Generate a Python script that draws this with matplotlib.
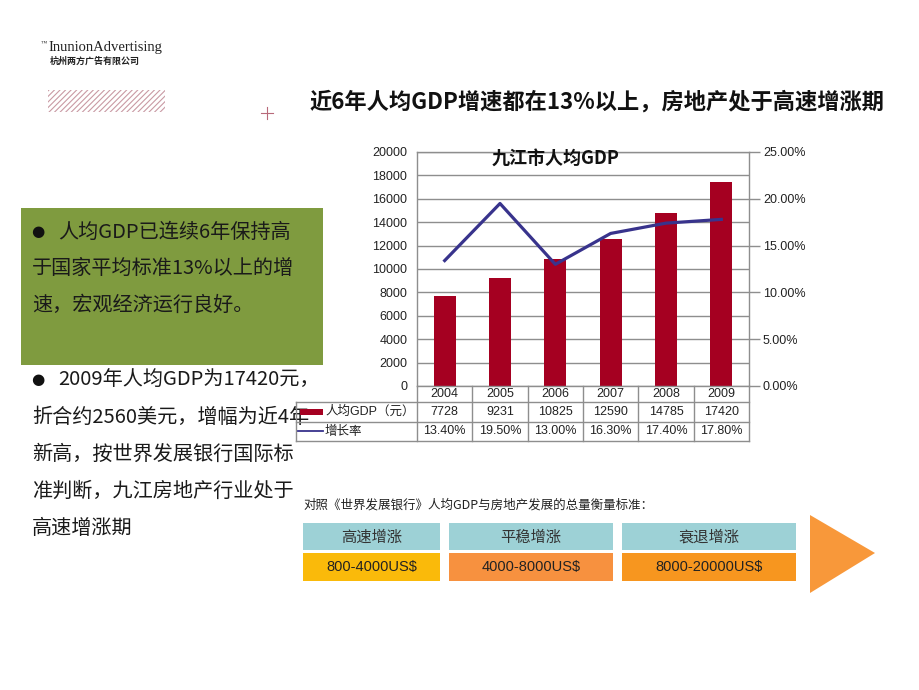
import matplotlib
matplotlib.use('Agg')
import matplotlib.pyplot as plt
from matplotlib.patches import Rectangle, Polygon
from matplotlib.ticker import FuncFormatter, MultipleLocator
from matplotlib.transforms import blended_transform_factory

plt.rcParams['font.family'] = ['Noto Sans CJK SC', 'DejaVu Sans']
plt.rcParams['hatch.linewidth'] = 0.8
ARIAL = ['Liberation Sans', 'Noto Sans CJK SC']

# data
years = ['2004', '2005', '2006', '2007', '2008', '2009']
gdp = [7728, 9231, 10825, 12590, 14785, 17420]
growth = [0.134, 0.195, 0.130, 0.163, 0.174, 0.178]
growth_labels = ['13.40%', '19.50%', '13.00%', '16.30%', '17.40%', '17.80%']
bar_name = '人均GDP（元）'
line_name = '增长率'

title = '近6年人均GDP增速都在13%以上，房地产处于高速增涨期'
chart_title = '九江市人均GDP'
para1 = ['人均GDP已连续6年保持高', '于国家平均标准13%以上的增', '速，宏观经济运行良好。']
para2 = ['2009年人均GDP为17420元，', '折合约2560美元，增幅为近4年', '新高，按世界发展银行国际标',
         '准判断，九江房地产行业处于', '高速增涨期']
std_caption = '对照《世界发展银行》人均GDP与房地产发展的总量衡量标准：'
std_names = ['高速增涨', '平稳增涨', '衰退增涨']
std_ranges = ['800-4000US$', '4000-8000US$', '8000-20000US$']

bar_color = '#A50021'
line_color = '#38338C'
grid_c = '#8E8E8E'

fig = plt.figure(figsize=(9.2, 6.9), dpi=100)

# full-page overlay in pixel coordinates for the slide decorations
bg = fig.add_axes([0, 0, 1, 1], zorder=0)
bg.set_xlim(0, 920)
bg.set_ylim(690, 0)
bg.axis('off')

bg.text(47, 43, '™', fontsize=4.5, family='Liberation Serif', va='center', ha='right', color='#222')
bg.text(48, 47.5, 'InunionAdvertising', fontsize=10.5, family='Liberation Serif',
        va='center', ha='left', color='#222')
bg.text(50, 61, '杭州两方广告有限公司', fontsize=6.5, fontweight='bold', va='center', ha='left', color='#222')
bg.add_patch(Rectangle((48, 90), 117, 22, facecolor='none', edgecolor='#C99AA4', hatch='//////', lw=0))
bg.plot([261, 273], [113, 113], color='#B86A7A', lw=0.8)
bg.plot([267, 267], [107, 119], color='#B86A7A', lw=0.8)

bg.text(310, 102, title, fontsize=16, fontweight='bold', va='center', ha='left', color='#111')

# green box with first paragraph
bg.add_patch(Rectangle((21, 208), 302, 157, facecolor='#7F9B3F', edgecolor='none'))
bg.text(31, 232, '●', fontsize=11, va='center', ha='left', color='#111', family='DejaVu Sans')
for i, s in enumerate(para1):
    bg.text(58 if i == 0 else 32, 232 + i * 36.5, s, fontsize=14.5, va='center', ha='left', color='#1a1a1a')

bg.text(31, 380, '●', fontsize=11, va='center', ha='left', color='#111', family='DejaVu Sans')
for i, s in enumerate(para2):
    bg.text(58 if i == 0 else 32, 380 + i * 37, s, fontsize=14.5, va='center', ha='left', color='#1a1a1a')

# standard boxes
bg.text(303, 505, std_caption, fontsize=9, va='center', ha='left', color='#222')
box_x = [(303, 440), (449, 613), (622, 796)]
range_colors = ['#FABA0A', '#F7913F', '#F7961F']
for (x0, x1), name, rng, rc in zip(box_x, std_names, std_ranges, range_colors):
    bg.add_patch(Rectangle((x0, 523), x1 - x0, 27, facecolor='#9DD1D6', edgecolor='none'))
    bg.add_patch(Rectangle((x0, 553), x1 - x0, 28, facecolor=rc, edgecolor='none'))
    bg.text((x0 + x1) / 2, 537, name, fontsize=11, va='center', ha='center', color='#333')
    bg.text((x0 + x1) / 2, 567, rng, fontsize=10.5, family=ARIAL, va='center', ha='center', color='#222')
bg.add_patch(Polygon([(810, 515), (810, 593), (875, 553)], closed=True, facecolor='#F8983A', edgecolor='none'))

# chart
ax = fig.add_axes([417 / 920, 1 - 386 / 690, 332 / 920, 234 / 690], zorder=1)
x = list(range(len(years)))
ax.bar(x, gdp, width=0.4, color=bar_color, zorder=2)
ax.set_xlim(-0.5, len(years) - 0.5)
ax.set_ylim(0, 20000)
ax.yaxis.set_major_locator(MultipleLocator(2000))
ax.set_xticks([])
ax.grid(axis='y', color=grid_c, lw=1, zorder=1)
ax.set_axisbelow(True)
ax.tick_params(axis='y', length=0, pad=7, labelsize=9, labelcolor='#222')
for lab in ax.get_yticklabels():
    lab.set_family(ARIAL)
for sp in ax.spines.values():
    sp.set_color(grid_c)
    sp.set_linewidth(1)

ax2 = ax.twinx()
ax2.plot(x, growth, color=line_color, lw=2.3, zorder=3)
ax2.set_ylim(0, 0.25)
ax2.yaxis.set_major_locator(MultipleLocator(0.05))
ax2.yaxis.set_major_formatter(FuncFormatter(lambda v, p: '%.2f%%' % (v * 100)))
ax2.tick_params(axis='y', length=8, width=1, color=grid_c, pad=2, labelsize=9, labelcolor='#222')
for lab in ax2.get_yticklabels():
    lab.set_family(ARIAL)
for sp in ax2.spines.values():
    sp.set_visible(False)

ax.text(2.0, 19500, chart_title, fontsize=13, fontweight='bold',
        ha='center', va='center', color='#111', zorder=4)

# data table below the plot
bt = blended_transform_factory(ax.transData, ax.transAxes)
row_y = [0, -16 / 234, -36 / 234, -55 / 234]
lab_left = -121 / 332
kw = dict(color=grid_c, lw=1, clip_on=False)
for xv in [i - 0.5 for i in range(len(years) + 1)]:
    ax.plot([xv, xv], [row_y[0], row_y[3]], transform=bt, **kw)
for yv in row_y[1:]:
    ax.plot([lab_left, 1], [yv, yv], transform=ax.transAxes, **kw)
ax.plot([lab_left, lab_left], [row_y[1], row_y[3]], transform=ax.transAxes, **kw)

for i in x:
    ax.text(i, (row_y[0] + row_y[1]) / 2, years[i], transform=bt, ha='center', va='center',
            fontsize=9, family=ARIAL, color='#222')
    ax.text(i, (row_y[1] + row_y[2]) / 2, str(gdp[i]), transform=bt, ha='center', va='center',
            fontsize=9, family=ARIAL, color='#222')
    ax.text(i, (row_y[2] + row_y[3]) / 2, growth_labels[i], transform=bt, ha='center', va='center',
            fontsize=9, family=ARIAL, color='#222')

# legend keys in the row label cells
ax.add_patch(Rectangle((lab_left + 4 / 332, (row_y[1] + row_y[2]) / 2 - 3 / 234), 23 / 332, 6 / 234,
                       transform=ax.transAxes, facecolor=bar_color, edgecolor='none', clip_on=False))
ax.plot([lab_left + 2 / 332, lab_left + 27 / 332], [(row_y[2] + row_y[3]) / 2] * 2,
        transform=ax.transAxes, color=line_color, lw=1.3, clip_on=False)
ax.text(lab_left + 29 / 332, (row_y[1] + row_y[2]) / 2, bar_name, transform=ax.transAxes,
        ha='left', va='center', fontsize=9, family=ARIAL, color='#222')
ax.text(lab_left + 29 / 332, (row_y[2] + row_y[3]) / 2, line_name, transform=ax.transAxes,
        ha='left', va='center', fontsize=9, family=ARIAL, color='#222')

fig.savefig('out.png', dpi=100)
